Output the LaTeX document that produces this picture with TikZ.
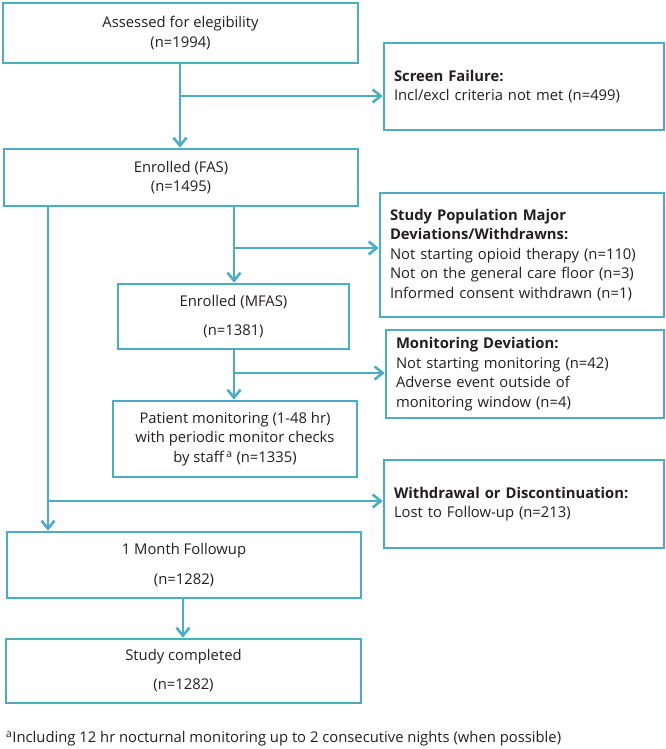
\documentclass[tikz,border=0pt]{standalone}
\usepackage{fontspec}
\setmainfont{Open Sans}
\usetikzlibrary{arrows.meta}
\definecolor{cblue}{RGB}{75,172,198}
\definecolor{ctext}{RGB}{35,31,32}
\begin{document}
\begin{tikzpicture}[x=1pt,y=-1pt,
  font=\fontsize{14.8}{19.5}\selectfont, text=ctext,
  box/.style={draw=cblue, line width=2.6pt, inner sep=0pt, align=center},
  side/.style={draw=cblue, line width=2.6pt, inner ysep=0pt, inner xsep=10pt, align=left},
  arr/.style={draw=cblue, line width=2.6pt, -{Straight Barb[length=8pt,width=13pt,line width=2.6pt]}}]
\useasboundingbox (0,0) rectangle (666,749);
\fill[white] (0,0) rectangle (666,749);

\node[box, minimum width=355pt, minimum height=60pt] (b1) at (180.5,33) {Assessed for elegibility\\(n=1994)};
\node[side, text width=260pt, minimum height=87pt] (sf) at (524,86.5) {\textbf{Screen Failure:}\\Incl/excl criteria not met (n=499)};
\node[box, minimum width=354pt, minimum height=57pt] (b2) at (181,177.5) {Enrolled (FAS)\\(n=1495)};
\node[side, text width=264pt, minimum height=124pt] (sp) at (522,255) {\textbf{Study Population Major}\\\textbf{Deviations/Withdrawns:}\\Not starting opioid therapy (n=110)\\Not on the general care floor (n=3)\\Informed consent withdrawn (n=1)};
\node[box, minimum width=231pt, minimum height=65pt] (mfas) at (233.5,316.5) {Enrolled (MFAS)\\[9.5pt](n=1381)};
\node[side, text width=258pt, minimum height=88pt] (md) at (525,374) {\textbf{Monitoring Deviation:}\\Not starting monitoring (n=42)\\Adverse event outside of\\monitoring window (n=4)};
\node[box, minimum width=244pt, minimum height=76pt] (pat) at (235,439) {Patient monitoring (1-48 hr)\\with periodic monitor checks\\by staff\,\textsuperscript{a} (n=1335)};
\node[side, text width=260pt, minimum height=88pt] (wd) at (524,504) {\textbf{Withdrawal or Discontinuation:}\\Lost to Follow-up (n=213)};
\node[box, minimum width=354pt, minimum height=66pt] (fu) at (184,565) {1 Month Followup\\[10pt](n=1282)};
\node[box, minimum width=355pt, minimum height=64pt] (sc) at (183.5,671) {Study completed\\[9.5pt](n=1282)};
\node[anchor=west, inner sep=0pt] (fn) at (6,739) {\textsuperscript{a}Including 12 hr nocturnal monitoring up to 2 consecutive nights (when possible)};

% connectors
\coordinate (j1) at (180,96);
\draw[arr] (j1 |- b1.south) -- (j1 |- b2.north);
\draw[arr] (j1) -- (j1 -| sf.west);

\coordinate (j2) at (234,248);
\draw[arr] (j2 |- b2.south) -- (j2 |- mfas.north);
\draw[arr] (j2) -- (j2 -| sp.west);

\coordinate (j3) at (234,373);
\draw[arr] (j3 |- mfas.south) -- (j3 |- pat.north);
\draw[arr] (j3) -- (j3 -| md.west);

\coordinate (j4) at (48,501);
\draw[arr] (j4 |- b2.south) -- (j4 |- fu.north);
\draw[arr] (j4) -- (j4 -| wd.west);

\coordinate (j5) at (183,600);
\draw[arr] (j5 |- fu.south) -- (j5 |- sc.north);
\end{tikzpicture}
\end{document}
